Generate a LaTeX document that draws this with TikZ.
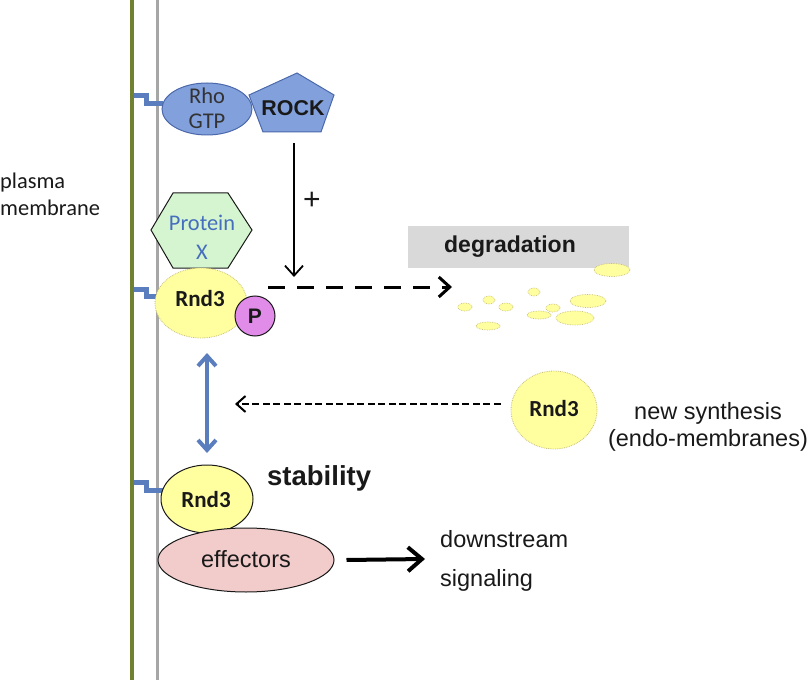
\documentclass[tikz,border=0pt]{standalone}
\usepackage{fontspec}
\setmainfont{Liberation Sans}
\newfontfamily\calfont{Carlito}
\usetikzlibrary{arrows.meta,shapes.geometric}
\definecolor{memgreen}{RGB}{112,130,50}
\definecolor{memgray}{RGB}{166,166,166}
\definecolor{linkblue}{RGB}{90,125,190}
\definecolor{rhofill}{RGB}{130,160,220}
\definecolor{rhoedge}{RGB}{75,105,170}
\definecolor{hexfill}{RGB}{212,245,208}
\definecolor{protblue}{RGB}{70,110,190}
\definecolor{rndfill}{RGB}{255,255,160}
\definecolor{rndedge}{RGB}{200,190,120}
\definecolor{pfill}{RGB}{226,140,234}
\definecolor{efffill}{RGB}{242,203,203}
\definecolor{degfill}{RGB}{217,217,217}
\definecolor{txt}{RGB}{25,25,25}
\begin{document}
\begin{tikzpicture}[x=1pt,y=-1pt,
  arialtxt/.style={font=\fontsize{23.5}{27}\selectfont, text=txt, inner sep=0pt},
  boldtxt/.style={font=\bfseries\fontsize{23}{27}\selectfont, text=txt, inner sep=0pt},
  caltxt/.style={font=\calfont\fontsize{22.4}{27}\selectfont, text=txt, inner sep=0pt},
  membrane/.style={line width=3.5pt},
  linkstep/.style={linkblue, line width=5pt, line join=miter, line cap=butt},
  rndsoft/.style={ellipse, fill=rndfill, draw=rndedge, densely dotted, line width=0.8pt, inner sep=0pt},
  rndbold/.style={font=\calfont\bfseries\fontsize{23}{26}\selectfont, text=txt},
  crumb/.style={ellipse, fill=rndfill, draw=rndedge, densely dotted, line width=0.7pt, inner sep=0pt},
]
\useasboundingbox (0,0) rectangle (812,682);

% membranes
\coordinate (gTop) at (132,0);
\coordinate (gBot) at (132,680);
\coordinate (yTop) at (157,0);
\coordinate (yBot) at (157,680);
\draw[membrane, draw=memgreen] (gTop) -- (gBot);
\draw[membrane, line width=3pt, draw=memgray] (yTop) -- (yBot);

\node[caltxt, anchor=west, align=left] (pm) at (0,194) {plasma\\membrane};

% membrane links
\coordinate (m1) at (134,96);
\coordinate (m2) at (134,289);
\coordinate (m3) at (134,482);
\draw[linkstep] (m1) -- (146,96) -- (146,104) -- (163,104);
\draw[linkstep] (m2) -- (146,289) -- (146,296) -- (160,296);
\draw[linkstep] (m3) -- (146,482) -- (146,490) -- (163,490);

% Rho GTP + ROCK
\node[ellipse, fill=rhofill, draw=rhoedge, line width=1pt, minimum width=90pt, minimum height=52pt, inner sep=0pt] (rho) at (207,109) {};
\node[caltxt, align=center, text=black!80, font=\calfont\fontsize{22.5}{25}\selectfont] (rhotxt) at (207,108) {Rho\\GTP};
\draw[fill=rhofill, draw=rhoedge, line width=1pt] (297,73) -- (334,95) -- (321,132) -- (263,132) -- (249,95) -- cycle;
\node[boldtxt, font=\bfseries\fontsize{21.4}{25}\selectfont] (rock) at (293,108) {ROCK};

% Protein X
\draw[fill=hexfill, draw=txt, line width=1pt] (151,230) -- (173,193) -- (228,193) -- (252,230) -- (228,268) -- (173,268) -- cycle;
\node[caltxt, align=center, text=protblue, font=\calfont\fontsize{22.4}{29}\selectfont] (protx) at (202,237) {Protein\\X};

% top Rnd3 + P
\node[rndsoft, minimum width=92pt, minimum height=70pt] (r1) at (201,303) {};
\node[rndbold] (r1t) at (200,299) {Rnd3};
\node[circle, fill=pfill, draw=txt, line width=1pt, minimum size=40pt, inner sep=0pt, font=\bfseries\fontsize{21}{24}\selectfont, text=txt] (p) at (255,316) {P};

% ROCK arrow
\coordinate (rockin) at (294,277);
\draw[line width=1.8pt, -{Straight Barb[length=10pt,width=18pt]}] (294,143) -- (rockin);
\node[arialtxt, font=\fontsize{30}{30}\selectfont] (plus) at (312,201) {+};

% degradation
\node[fill=degfill, minimum width=221pt, minimum height=41pt, inner sep=0pt] (degbox) at (518,247) {};
\node[boldtxt] (deg) at (510,247) {degradation};
\coordinate (degin) at (452,287);
\draw[line width=3pt, dash pattern=on 17pt off 12pt, -{Straight Barb[length=11pt,width=20pt]}] (268,287) -- (degin);

\node[crumb, minimum width=36pt, minimum height=13pt] (c1) at (612,270) {};
\node[crumb, minimum width=14pt, minimum height=8pt] (c2) at (465,307) {};
\node[crumb, minimum width=12pt, minimum height=8pt] (c3) at (489,300) {};
\node[crumb, minimum width=14pt, minimum height=8pt] (c4) at (506,307) {};
\node[crumb, minimum width=12pt, minimum height=8pt] (c5) at (534,292) {};
\node[crumb, minimum width=36pt, minimum height=13pt] (c6) at (588,301) {};
\node[crumb, minimum width=14pt, minimum height=8pt] (c7) at (553,308) {};
\node[crumb, minimum width=24pt, minimum height=8pt] (c8) at (539,315) {};
\node[crumb, minimum width=38pt, minimum height=14pt] (c9) at (575,318) {};
\node[crumb, minimum width=24pt, minimum height=8pt] (c10) at (488,326) {};

% double arrow
\coordinate (da) at (207,353);
\coordinate (db) at (207,453);
\draw[draw=linkblue, line width=4pt, {Straight Barb[length=10pt,width=18pt]}-{Straight Barb[length=10pt,width=18pt]}] (da) -- (db);

% new synthesis
\node[rndsoft, minimum width=86pt, minimum height=78pt] (r2) at (554,410) {};
\node[rndbold] (r2t) at (554,409) {Rnd3};
\coordinate (nsin) at (235,404);
\draw[line width=2pt, dash pattern=on 7pt off 3.5pt, -{Straight Barb[length=9pt,width=16pt]}] (r2.west |- nsin) ++(-10,0) -- (nsin);
\node[arialtxt, align=center] (ns) at (708,427) {new synthesis\\(endo-membranes)};

% bottom Rnd3 + effectors
\node[ellipse, fill=rndfill, draw=txt, line width=1pt, minimum width=92pt, minimum height=68pt, inner sep=0pt] (r3) at (207,499) {};
\node[rndbold] (r3t) at (206,500) {Rnd3};
\node[boldtxt, anchor=west, font=\bfseries\fontsize{27.5}{30}\selectfont] (stab) at (267,478) {stability};
\node[ellipse, fill=efffill, draw=txt, line width=1pt, minimum width=176pt, minimum height=64pt, inner sep=0pt] (eff) at (246,560) {};
\node[arialtxt] (efft) at (246,559) {effectors};
\coordinate (dsin) at (425,559);
\draw[line width=4pt, -{Straight Barb[length=14pt,width=24pt]}] (eff.east) ++(12,0) -- (dsin);
\node[arialtxt, anchor=west] (ds) at (440,539) {downstream};
\node[arialtxt, anchor=west] (sig) at (440,580) {signaling};
\end{tikzpicture}
\end{document}
